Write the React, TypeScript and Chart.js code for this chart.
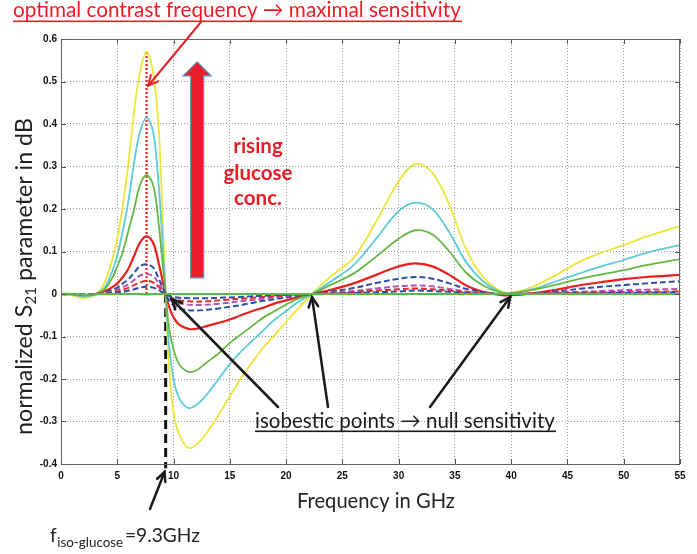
import React, { useEffect, useRef } from "react";
import { Chart, registerables } from "chart.js";

Chart.register(...registerables);

// Frequency samples (GHz)
const freq = [0, 1, 2, 3, 3.5, 4, 4.5, 5, 5.5, 6, 6.5, 7, 7.6, 8.2, 8.7, 9.0, 9.3, 9.6, 10, 10.5, 11.3, 12, 13, 14, 15, 16, 17, 18, 19, 20, 21, 22.3, 24, 26, 28, 30, 31.5, 33, 34.5, 36, 37.5, 39, 40, 42, 44, 46, 48, 50, 52, 55];

// Normalized S21 (dB) per glucose concentration
const yellowS21 = [0, -0.003, -0.01, -0.003, 0.01, 0.035, 0.075, 0.13, 0.21, 0.31, 0.43, 0.52, 0.57, 0.52, 0.38, 0.2, 0, -0.17, -0.28, -0.33, -0.362, -0.355, -0.325, -0.285, -0.24, -0.198, -0.16, -0.125, -0.096, -0.066, -0.036, 0, 0.042, 0.085, 0.17, 0.265, 0.306, 0.285, 0.21, 0.105, 0.04, 0.008, 0.003, 0.018, 0.045, 0.075, 0.097, 0.115, 0.135, 0.16];
const cyanS21 = [0, -0.002, -0.006, -0.002, 0.005, 0.02, 0.05, 0.09, 0.15, 0.22, 0.31, 0.38, 0.415, 0.38, 0.25, 0.13, 0, -0.12, -0.2, -0.245, -0.268, -0.262, -0.235, -0.2, -0.165, -0.135, -0.11, -0.085, -0.06, -0.04, -0.02, 0, 0.03, 0.068, 0.13, 0.195, 0.215, 0.2, 0.145, 0.075, 0.03, 0.005, 0.002, 0.012, 0.03, 0.048, 0.065, 0.08, 0.097, 0.115];
const greenS21 = [0, 0, -0.004, 0, 0.005, 0.015, 0.035, 0.065, 0.1, 0.15, 0.2, 0.255, 0.28, 0.255, 0.16, 0.08, 0, -0.08, -0.13, -0.165, -0.183, -0.18, -0.16, -0.14, -0.115, -0.095, -0.075, -0.055, -0.04, -0.025, -0.012, 0, 0.022, 0.048, 0.088, 0.13, 0.15, 0.14, 0.1, 0.05, 0.02, 0.004, 0.002, 0.01, 0.022, 0.035, 0.046, 0.056, 0.068, 0.082];
const redS21 = [0, -0.002, -0.003, 0, 0.003, 0.008, 0.015, 0.025, 0.04, 0.06, 0.09, 0.12, 0.136, 0.12, 0.07, 0.035, 0, -0.03, -0.055, -0.072, -0.082, -0.082, -0.075, -0.068, -0.06, -0.05, -0.04, -0.032, -0.022, -0.015, -0.008, 0, 0.01, 0.025, 0.045, 0.065, 0.072, 0.065, 0.045, 0.02, 0.005, -0.002, -0.003, 0.002, 0.01, 0.02, 0.028, 0.035, 0.04, 0.045];
const blueDashS21 = [0, 0, -0.002, 0, 0.002, 0.005, 0.01, 0.015, 0.025, 0.035, 0.05, 0.065, 0.07, 0.062, 0.035, 0.018, 0, -0.015, -0.027, -0.034, -0.038, -0.039, -0.037, -0.034, -0.03, -0.026, -0.021, -0.016, -0.012, -0.008, -0.004, 0, 0.006, 0.014, 0.026, 0.036, 0.04, 0.036, 0.025, 0.012, 0.004, 0, -0.001, 0.002, 0.006, 0.012, 0.017, 0.021, 0.025, 0.03];
const magentaDashS21 = [0, 0, -0.002, 0, 0.001, 0.003, 0.006, 0.01, 0.016, 0.023, 0.033, 0.043, 0.047, 0.042, 0.024, 0.012, 0, -0.01, -0.018, -0.022, -0.025, -0.026, -0.025, -0.023, -0.02, -0.017, -0.014, -0.011, -0.008, -0.005, -0.003, 0, 0.003, 0.007, 0.013, 0.018, 0.02, 0.018, 0.012, 0.006, 0.002, 0, 0, 0.001, 0.003, 0.005, 0.007, 0.009, 0.01, 0.012];
const redDashS21 = [0, 0, -0.001, 0, 0.001, 0.002, 0.004, 0.006, 0.01, 0.015, 0.021, 0.027, 0.031, 0.027, 0.016, 0.008, 0, -0.007, -0.012, -0.015, -0.017, -0.018, -0.017, -0.015, -0.013, -0.011, -0.009, -0.007, -0.005, -0.003, -0.002, 0, 0.002, 0.004, 0.008, 0.011, 0.013, 0.011, 0.008, 0.004, 0.001, 0, 0, 0.001, 0.002, 0.003, 0.004, 0.005, 0.005, 0.006];
const blueDash2S21 = [0, 0, -0.001, 0, 0, 0.001, 0.002, 0.003, 0.005, 0.008, 0.011, 0.015, 0.017, 0.015, 0.009, 0.004, 0, -0.004, -0.007, -0.009, -0.01, -0.01, -0.01, -0.009, -0.008, -0.007, -0.005, -0.004, -0.003, -0.002, -0.001, 0, 0.001, 0.002, 0.004, 0.006, 0.008, 0.007, 0.005, 0.002, 0.001, 0, 0, 0, 0.001, 0.002, 0.002, 0.003, 0.003, 0.004];
const greenFlatS21 = [0, 0, -0.002, -0.001, 0, 0, 0, 0, 0, 0, 0, 0, -0.001, 0, 0, 0, 0, 0, 0, 0, 0, 0, 0, 0, 0, 0, 0, 0, 0, 0, 0, 0, 0, 0, 0, 0, 0, 0, 0, 0, 0, 0, 0, 0, 0, 0, 0, 0, 0, 0];

// Marker lines
const optimalFreq = [7.6, 7.6];
const optimalLine = [0, 0.57];
const isoFreq = [9.3, 9.3];
const isoLine = [0, -0.41];
const isobesticFreqs = [9.3, 22.3, 40];

const xTicks = [0, 5, 10, 15, 20, 25, 30, 35, 40, 45, 50, 55];
const yTicks = [-0.4, -0.3, -0.2, -0.1, 0, 0.1, 0.2, 0.3, 0.4, 0.5, 0.6];

const pts = (xs: number[], ys: number[]) => xs.map((x, i) => ({ x, y: ys[i] }));

const HUM = "Lato, 'Open Sans', sans-serif";

function fitFont(ctx: CanvasRenderingContext2D, text: string, width: number, weight: string, family: string) {
  ctx.font = `${weight} 20px ${family}`;
  const w = ctx.measureText(text).width;
  return (20 * width) / w;
}

function arrow(ctx: CanvasRenderingContext2D, x1: number, y1: number, x2: number, y2: number, color: string, lw: number, head: number) {
  ctx.save();
  ctx.strokeStyle = color;
  ctx.lineWidth = lw;
  ctx.lineCap = "round";
  ctx.setLineDash([]);
  ctx.beginPath();
  ctx.moveTo(x1, y1);
  ctx.lineTo(x2, y2);
  ctx.stroke();
  const ang = Math.atan2(y2 - y1, x2 - x1);
  ctx.beginPath();
  ctx.moveTo(x2 - head * Math.cos(ang - 0.45), y2 - head * Math.sin(ang - 0.45));
  ctx.lineTo(x2, y2);
  ctx.lineTo(x2 - head * Math.cos(ang + 0.45), y2 - head * Math.sin(ang + 0.45));
  ctx.stroke();
  ctx.restore();
}

const annotPlugin = {
  id: "annot",
  afterDraw(chart: any) {
    const { ctx, chartArea: a, scales } = chart;
    const xs = scales.x;
    const ys = scales.y;
    ctx.save();
    // box
    ctx.setLineDash([]);
    ctx.strokeStyle = "#666";
    ctx.lineWidth = 1;
    ctx.strokeRect(a.left + 0.5, a.top + 0.5, a.right - a.left - 1, a.bottom - a.top);
    // inward ticks
    ctx.strokeStyle = "#555";
    ctx.beginPath();
    xTicks.forEach((t) => {
      const px = Math.round(xs.getPixelForValue(t)) + 0.5;
      ctx.moveTo(px, a.bottom);
      ctx.lineTo(px, a.bottom - 5);
      ctx.moveTo(px, a.top);
      ctx.lineTo(px, a.top + 5);
    });
    yTicks.forEach((t) => {
      const py = Math.round(ys.getPixelForValue(t)) + 0.5;
      ctx.moveTo(a.left, py);
      ctx.lineTo(a.left + 5, py);
      ctx.moveTo(a.right, py);
      ctx.lineTo(a.right - 5, py);
    });
    ctx.stroke();

    // big red arrow (rising glucose)
    const ax = xs.getPixelForValue(12.1);
    const aTop = ys.getPixelForValue(0.546);
    const aBot = ys.getPixelForValue(0.038);
    const headBot = aTop + 14;
    ctx.beginPath();
    ctx.moveTo(ax - 6.5, aBot);
    ctx.lineTo(ax - 6.5, headBot);
    ctx.lineTo(ax - 14, headBot);
    ctx.lineTo(ax, aTop);
    ctx.lineTo(ax + 14, headBot);
    ctx.lineTo(ax + 6.5, headBot);
    ctx.lineTo(ax + 6.5, aBot);
    ctx.closePath();
    ctx.fillStyle = "#e8202a";
    ctx.fill();
    ctx.strokeStyle = "#5f8ccc";
    ctx.lineWidth = 1.2;
    ctx.stroke();

    // red pointer to optimal peak
    arrow(ctx, 201, 22, xs.getPixelForValue(7.75), ys.getPixelForValue(0.49), "#e8202a", 2, 11);

    // isobestic arrows
    const tails = [[278, 407], [328, 407], [430, 407]];
    isobesticFreqs.forEach((f, i) => {
      const tx = xs.getPixelForValue(f) + (i === 0 ? 6 : i === 2 ? -1 : 0);
      const ty = ys.getPixelForValue(0) + (i === 0 ? 5 : 3);
      arrow(ctx, tails[i][0], tails[i][1], tx, ty, "#1a1a1a", 2.5, 11);
    });
    // bottom arrow
    arrow(ctx, 150, 509, xs.getPixelForValue(9.2), 472, "#1a1a1a", 2.5, 10);

    // texts
    ctx.textBaseline = "alphabetic";
    ctx.textAlign = "left";
    // title
    const t1 = "optimal contrast frequency \u2192 maximal sensitivity";
    let fs = fitFont(ctx, t1, 448, "400", HUM);
    ctx.font = `400 ${fs}px ${HUM}`;
    ctx.fillStyle = "#ec1c24";
    ctx.fillText(t1, 13, 17);
    ctx.fillRect(13, 20.5, 449, 1.6);

    // rising glucose conc.
    ctx.textAlign = "center";
    const gfs = fitFont(ctx, "glucose", 69, "700", HUM);
    ctx.font = `700 ${gfs}px ${HUM}`;
    ctx.fillText("rising", 258, 153);
    ctx.fillText("glucose", 258, 180);
    ctx.fillText("conc.", 258, 205);

    // isobestic
    ctx.textAlign = "left";
    const t2 = "isobestic points \u2192 null sensitivity";
    fs = fitFont(ctx, t2, 300, "400", HUM);
    ctx.font = `400 ${fs}px ${HUM}`;
    ctx.fillStyle = "#1a1a1a";
    ctx.fillText(t2, 255, 428);
    ctx.fillRect(255, 430.5, 301, 1.6);

    // x title
    const t3 = "Frequency in GHz";
    fs = fitFont(ctx, t3, 158, "400", HUM);
    ctx.font = `400 ${fs}px ${HUM}`;
    ctx.fillStyle = "#222";
    ctx.fillText(t3, 297, 508);

    // f_iso-glucose
    const mfs = fitFont(ctx, "=9.3GHz", 75, "400", HUM);
    const sfs = fitFont(ctx, "iso-glucose", 66, "400", HUM);
    ctx.font = `400 ${mfs}px ${HUM}`;
    ctx.fillText("f", 50, 542);
    const fw = ctx.measureText("f").width;
    ctx.fillText("=9.3GHz", 125, 542);
    ctx.font = `400 ${sfs}px ${HUM}`;
    ctx.fillText("iso-glucose", Math.min(58, 50 + fw + 0.5), 547);

    // y title rotated
    ctx.save();
    ctx.translate(32, 435);
    ctx.rotate(-Math.PI / 2);
    const partA = "normalized S";
    const partB = "21";
    const partC = " parameter in dB";
    ctx.font = `400 20px ${HUM}`;
    const wA = ctx.measureText(partA).width;
    const wC = ctx.measureText(partC).width;
    ctx.font = `400 13px ${HUM}`;
    const wB = ctx.measureText(partB).width;
    const k = 317 / (wA + wB + wC);
    const mf = 20 * k;
    const sf = 13 * k;
    ctx.font = `400 ${mf}px ${HUM}`;
    ctx.fillText(partA, 0, 0);
    ctx.font = `400 ${sf}px ${HUM}`;
    ctx.fillText(partB, wA * k, 4);
    ctx.font = `400 ${mf}px ${HUM}`;
    ctx.fillText(partC, (wA + wB) * k, 0);
    ctx.restore();

    ctx.restore();
  },
};

export default function App() {
  const ref = useRef<HTMLCanvasElement | null>(null);
  useEffect(() => {
    if (!ref.current) return;
    const line = (label: string, ys: number[], color: string, dash: number[] = [], width = 2) => ({
      label,
      data: pts(freq, ys),
      borderColor: color,
      backgroundColor: color,
      borderWidth: width,
      borderDash: dash,
      pointRadius: 0,
      tension: 0.35,
      fill: false,
    });
    const chart = new Chart(ref.current, {
      type: "line",
      data: {
        datasets: [
          line("c0", greenFlatS21, "#5cb848", [], 2.2),
          line("c1", blueDash2S21, "#2b4ea6", [6, 3]),
          line("c2", redDashS21, "#e62a2a", [6, 3]),
          line("c3", magentaDashS21, "#b254b4", [6, 3]),
          line("c4", blueDashS21, "#2b4ea6", [6, 3]),
          line("c5", greenS21, "#66b844", [], 1.8),
          line("c6", cyanS21, "#5fcad8", [], 1.8),
          line("c7", yellowS21, "#ece63a", [], 1.8),
          line("c8", redS21, "#e8201e", [], 2.2),
          {
            label: "opt",
            data: pts(optimalFreq, optimalLine),
            borderColor: "#e8201e",
            borderWidth: 2.2,
            borderDash: [2, 2],
            pointRadius: 0,
            fill: false,
          },
          {
            label: "iso",
            data: pts(isoFreq, isoLine),
            borderColor: "#111",
            borderWidth: 3,
            borderDash: [9, 5],
            pointRadius: 0,
            fill: false,
            clip: false as any,
          },
        ],
      },
      options: {
        responsive: false,
        animation: false,
        events: [],
        layout: { padding: { left: 0, right: 17, top: 39, bottom: 0 } },
        plugins: { legend: { display: false }, tooltip: { enabled: false }, title: { display: false } },
        scales: {
          x: {
            type: "linear",
            min: 0,
            max: 55,
            afterFit: (s: any) => {
              s.height = 90;
            },
            afterBuildTicks: (s: any) => {
              s.ticks = xTicks.map((v) => ({ value: v }));
            },
            ticks: {
              padding: 6,
              color: "#111",
              font: { family: "'Liberation Sans', Arial, sans-serif", size: 10, weight: "bold" },
              maxRotation: 0,
              autoSkip: false,
              callback: (v: any) => String(v),
            },
            grid: { color: "#9a9a9a", lineWidth: 1, drawTicks: false },
            border: { display: false, dash: [1, 2] },
          },
          y: {
            type: "linear",
            min: -0.4,
            max: 0.6,
            afterFit: (s: any) => {
              s.width = 61;
            },
            afterBuildTicks: (s: any) => {
              s.ticks = yTicks.map((v) => ({ value: v }));
            },
            ticks: {
              padding: 4,
              color: "#111",
              font: { family: "'Liberation Sans', Arial, sans-serif", size: 10, weight: "bold" },
              autoSkip: false,
              callback: (v: any) => String(Number(Number(v).toFixed(1))),
            },
            grid: { color: "#9a9a9a", lineWidth: 1, drawTicks: false },
            border: { display: false, dash: [1, 2] },
          },
        },
      },
      plugins: [annotPlugin],
    });
    return () => chart.destroy();
  }, []);
  return (
    <div style={{ position: "absolute", left: 0, top: 0, width: 697, height: 554, background: "#fff" }}>
      <canvas ref={ref} width={697} height={554} style={{ display: "block" }} />
    </div>
  );
}
